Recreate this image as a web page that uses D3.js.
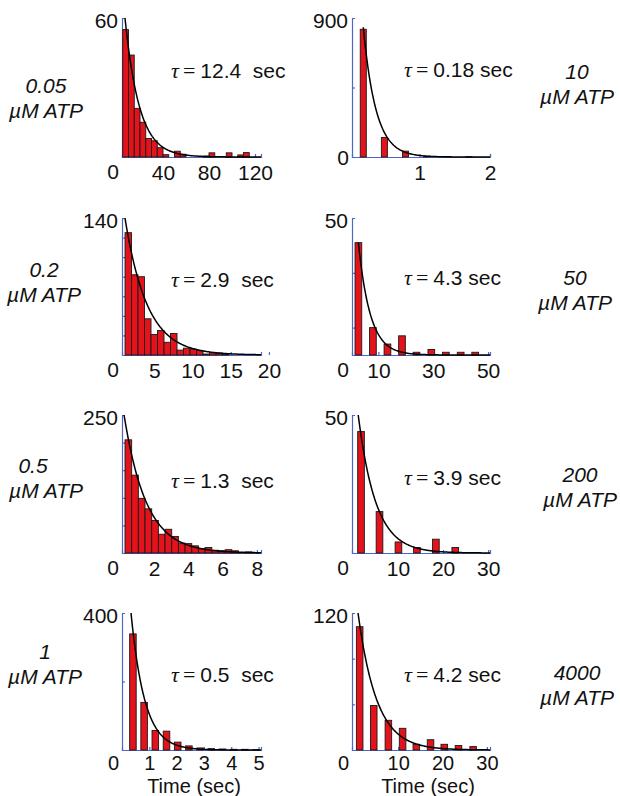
<!DOCTYPE html>
<html>
<head>
<meta charset="utf-8">
<script src="https://cdnjs.cloudflare.com/ajax/libs/d3/7.8.5/d3.min.js"></script>
<style>
  body { margin: 0; background: #fff; }
  svg text { font-family: Arial, "Liberation Sans", sans-serif; fill: #111; }
</style>
</head>
<body>
<div id="chart"></div>
<script>
// Dwell time histograms with exponential fits, one panel per ATP concentration
// panel order: left col then right col, row by row
const concentrations = ['0.05', '10', '0.2', '50', '0.5', '200', '1', '4000'];
const tauValues = [12.4, 0.18, 2.9, 4.3, 1.3, 3.9, 0.5, 4.2];
const tauLabels = ['12.4  sec', '0.18 sec', '2.9  sec', '4.3 sec', '1.3  sec', '3.9 sec', '0.5  sec', '4.2 sec'];
const yMaxValues = [60, 900, 140, 50, 250, 50, 400, 120];
const xDomains = [[4.35, 125.2], [0.04, 2.0], [0.78, 18.96], [0.37, 50.7], [0.12, 8.24], [-0.2, 30.4], [0, 5.09], [-0.4, 30.7]];
const xTickValues = [[40, 80, 120], [1, 2], [5, 10, 15, 20], [10, 30, 50], [2, 4, 6, 8], [10, 20, 30], [1, 2, 3, 4, 5], [10, 20, 30]];
const yMinorTicks = [[10, 20, 30, 40, 50], [450], [20, 40, 60, 80, 100, 120], [10, 30], [50, 100, 150, 200], [], [200], [40, 80]];
const binWidths = [5, 0.086, 0.85, 2.45, 0.39, 1.48, 0.24, 1.48];
// where the fitted curve starts (time, count)
const fitStartTimes = [6.96, 0.2, 1.17, 2.7, 0.24, 1.18, 0.33, 0.96];
const fitStartCounts = [60, 840, 140, 41, 250, 50, 400, 120];

// bin centres (sec) and counts
const bins005 = [7.5, 12.5, 17.5, 22.5, 27.5, 32.5, 37.5, 42.5, 52.5, 57.5, 77.5, 82.5, 97.5, 107.5, 112.5];
const counts005 = [55, 44, 21, 15, 8, 7, 4, 1, 2.5, 1.2, 0.4, 1.8, 1.8, 0.9, 1.9];
const bins10 = [0.2, 0.5, 0.8, 1.1, 1.4, 1.7];
const counts10 = [827, 126, 38, 5, 3, 2];
const bins02 = [1.6, 2.45, 3.3, 4.15, 5.0, 5.85, 6.7, 7.55, 8.4, 9.25, 10.1, 10.95, 11.8, 12.65, 13.5, 14.35];
const counts02 = [125, 82, 80, 37, 21, 25, 13, 22, 5, 7, 6, 4.5, 1, 2.4, 2, 1];
const bins50 = [2.7, 8.0, 13.3, 18.6, 23.9, 29.3, 34.6, 40.0, 45.3];
const counts50 = [41, 10, 4, 7, 1, 2, 1, 1, 1];
const bins05 = [0.49, 0.88, 1.27, 1.66, 2.05, 2.44, 2.83, 3.22, 3.61, 4.0, 4.39, 4.78, 5.17, 5.56, 5.95, 6.34, 6.73, 7.12, 7.51, 7.9];
const counts05 = [205, 141, 99, 80, 59, 34, 43, 30, 18, 17, 13, 8, 10, 5, 4, 6, 4, 1, 2, 1];
const bins200 = [1.8, 5.9, 10.1, 14.2, 18.4, 22.7];
const counts200 = [44, 15, 4, 2, 5, 2];
const bins1 = [0.4, 0.81, 1.22, 1.63, 2.04, 2.45, 2.86, 3.27, 3.68, 4.09, 4.5, 4.91];
const counts1 = [339, 139, 57, 55, 23, 12, 6, 4, 3, 2, 2, 1];
const bins4000 = [1.33, 4.5, 7.8, 11.0, 14.1, 17.3, 20.4, 23.6, 26.9];
const counts4000 = [108, 39, 26, 19, 5, 9, 5, 4, 3];

const binsList = [bins005, bins10, bins02, bins50, bins05, bins200, bins1, bins4000];
const countsList = [counts005, counts10, counts02, counts50, counts05, counts200, counts1, counts4000];

// layout
const width = 620, height = 796;
const colLeft = [122, 352], colRight = [261, 490];
const rowTop = [18, 218, 415, 613], rowBottom = [157, 355, 553, 750];
const tauX = [171, 404];
const tauY = [71, 70, 280, 278, 481, 478, 675, 675];
const concX = [46, 577, 44, 575, 33, 580, 45, 577];
const concY = [86, 72, 270, 278, 466, 475, 652, 673];
const axisColor = '#4c68c4';
const barColor = '#e3121b';

const svg = d3.select('#chart').append('svg')
  .attr('width', width)
  .attr('height', height);

concentrations.forEach((conc, i) => {
  const col = i % 2, row = Math.floor(i / 2);
  const x0 = colLeft[col], x1 = colRight[col];
  const top = rowTop[row], bottom = rowBottom[row];
  const lastRow = row === 3;
  const tickFont = lastRow ? 20 : 21;

  const x = d3.scaleLinear().domain(xDomains[i]).range([x0, x1]);
  const y = d3.scaleLinear().domain([0, yMaxValues[i]]).range([bottom, top]);
  const g = svg.append('g').attr('class', 'panel');

  // y axis: ticks point inwards
  g.append('g')
    .attr('transform', `translate(${x0},0)`)
    .call(d3.axisLeft(y).tickValues(yMinorTicks[i]).tickSize(-3).tickSizeOuter(-3).tickFormat(''))
    .call(a => a.selectAll('path, line').attr('stroke', axisColor).attr('stroke-width', 1.2));

  // x axis
  g.append('g')
    .attr('transform', `translate(0,${bottom})`)
    .call(d3.axisBottom(x).tickValues(xTickValues[i]).tickSize(-3).tickSizeOuter(-3)
      .tickPadding(lastRow ? 6 : 8).tickFormat(d3.format('~g')))
    .call(a => a.selectAll('path, line').attr('stroke', axisColor).attr('stroke-width', 1.2))
    .call(a => a.selectAll('text')
      .attr('font-size', tickFont)
      .attr('font-family', 'Arial, "Liberation Sans", sans-serif')
      .attr('fill', '#111'));

  // y labels: max at top, 0 at bottom
  g.append('text')
    .attr('x', x0 - 4)
    .attr('y', top + 10)
    .attr('text-anchor', 'end')
    .attr('font-size', 21)
    .text(yMaxValues[i]);

  g.append('text')
    .attr('x', x0 - 3)
    .attr('y', i === 1 ? bottom + 8 : bottom + (lastRow ? 20 : 22))
    .attr('text-anchor', 'end')
    .attr('font-size', tickFont)
    .text(0);

  // histogram bars
  const bw = binWidths[i];
  g.selectAll('.bar')
    .data(binsList[i].map((b, k) => ({ t: b, n: countsList[i][k] })))
    .enter().append('rect')
    .attr('class', 'bar')
    .attr('x', d => x(d.t - bw / 2))
    .attr('width', d => x(d.t + bw / 2) - x(d.t - bw / 2))
    .attr('y', d => y(d.n))
    .attr('height', d => bottom - y(d.n))
    .style('fill', barColor)
    .style('stroke', '#1a1a1a')
    .style('stroke-width', 0.9);

  // exponential fit
  const t0 = fitStartTimes[i], n0 = fitStartCounts[i], tau = tauValues[i];
  const ts = d3.range(0, 201).map(k => t0 + (xDomains[i][1] - t0) * k / 200);
  g.append('path')
    .datum(ts)
    .attr('fill', 'none')
    .attr('stroke', '#000')
    .attr('stroke-width', 1.5)
    .attr('d', d3.line().x(t => x(t)).y(t => y(n0 * Math.exp(-(t - t0) / tau))));

  // tau label
  const tl = g.append('text')
    .attr('x', tauX[col])
    .attr('y', tauY[i] + 7)
    .attr('font-size', 21)
    .style('white-space', 'pre');
  tl.append('tspan')
    .attr('font-family', '"Liberation Serif", "Times New Roman", serif')
    .attr('font-style', 'italic')
    .attr('font-size', 22)
    .text('τ');
  tl.append('tspan')
    .attr('dx', 4)
    .attr('font-family', '"Liberation Serif", "Times New Roman", serif')
    .attr('font-size', 22)
    .text('=');
  tl.append('tspan')
    .attr('dx', 5)
    .text(tauLabels[i]);

  // concentration label
  const cl = svg.append('text')
    .attr('text-anchor', 'middle')
    .attr('font-style', 'italic')
    .attr('font-size', 21);
  cl.append('tspan')
    .attr('x', concX[i])
    .attr('y', concY[i] + 7)
    .text(conc);
  cl.append('tspan')
    .attr('x', concX[i] + (i === 4 ? 13 : 0))
    .attr('dy', 25)
    .text('µM ATP');
});

// shared x titles
[[194, 'Time (sec)'], [428, 'Time (sec)']].forEach(([cx, label]) => {
  svg.append('text')
    .attr('x', cx)
    .attr('y', 793)
    .attr('text-anchor', 'middle')
    .attr('font-size', 20)
    .text(label);
});
</script>
</body>
</html>
